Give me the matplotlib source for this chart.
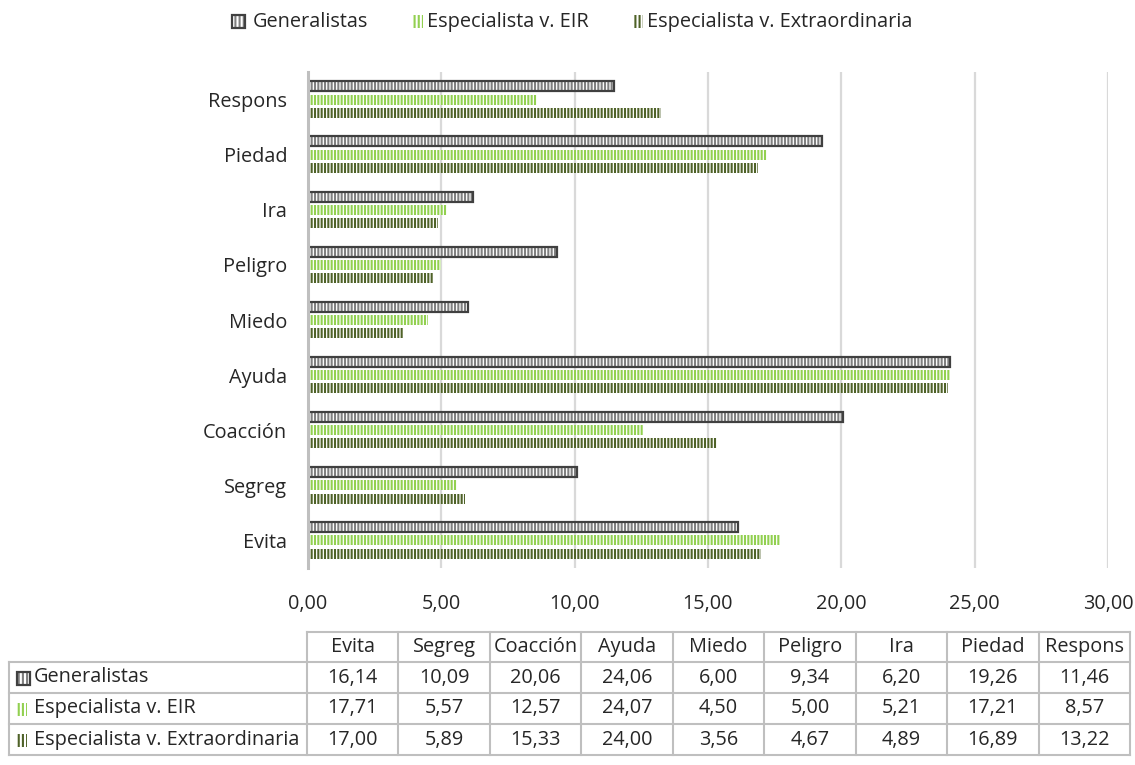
import matplotlib
matplotlib.use('Agg')
import matplotlib.pyplot as plt
from matplotlib.patches import Rectangle
from matplotlib.lines import Line2D
from matplotlib.ticker import FuncFormatter
import numpy as np

categories = ['Evita', 'Segreg', 'Coacción', 'Ayuda', 'Miedo', 'Peligro', 'Ira', 'Piedad', 'Respons']
series_names = ['Generalistas', 'Especialista v. EIR', 'Especialista v. Extraordinaria']
generalistas = [16.14, 10.09, 20.06, 24.06, 6.00, 9.34, 6.20, 19.26, 11.46]
especialista_eir = [17.71, 5.57, 12.57, 24.07, 4.50, 5.00, 5.21, 17.21, 8.57]
especialista_extra = [17.00, 5.89, 15.33, 24.00, 3.56, 4.67, 4.89, 16.89, 13.22]
x_ticks = [0, 5, 10, 15, 20, 25, 30]

W, H = 1135, 765
FONT = 'Open Sans'
FS = 14.3
plt.rcParams['font.family'] = [FONT, 'DejaVu Sans']
plt.rcParams['hatch.linewidth'] = 1.5

HATCH_COLORS = ['#7f7f7f', '#92d050', '#4f6228']
BORDER = '#404040'
TEXT = '#262626'
HATCH = '|||||'


def fx(px):
    return px / W


def fy(py):
    return 1 - py / H


fig = plt.figure(figsize=(W / 100, H / 100), dpi=100)
ax = fig.add_axes([fx(308), fy(568), fx(1108) - fx(308), fy(72) - fy(568)])

y = np.arange(len(categories))
bar_h = 0.18
offsets = [0.24, 0.0, -0.24]
all_values = [generalistas, especialista_eir, especialista_extra]

for i, values in enumerate(all_values):
    ax.barh(y + offsets[i], values, height=bar_h, color='white',
            edgecolor=HATCH_COLORS[i], hatch=HATCH, linewidth=0, zorder=3)
# dark outline on the first series
ax.barh(y + offsets[0], generalistas, height=bar_h, fill=False,
        edgecolor=BORDER, linewidth=1.6, zorder=4)

ax.set_xlim(0, 30)
ax.set_ylim(-0.5, len(categories) - 0.5)
ax.set_xticks(x_ticks)
ax.xaxis.set_major_formatter(FuncFormatter(lambda v, p: f'{v:.2f}'.replace('.', ',')))
ax.set_yticks(y)
ax.set_yticklabels(categories)
ax.tick_params(axis='both', length=0, labelsize=FS, colors=TEXT)
ax.tick_params(axis='y', pad=15)
ax.tick_params(axis='x', pad=19)
ax.grid(axis='x', color='#d9d9d9', linewidth=1.6, zorder=0)
ax.set_axisbelow(True)
for side in ['top', 'right', 'bottom']:
    ax.spines[side].set_visible(False)
ax.spines['left'].set_color('#bfbfbf')
ax.spines['left'].set_linewidth(2.2)
ax.spines['left'].set_zorder(5)


def key(x0, y0, i, w, h):
    fig.add_artist(Rectangle((fx(x0), fy(y0 + h)), fx(w), h / H, facecolor='white',
                             edgecolor=HATCH_COLORS[i], hatch='||||', linewidth=0,
                             transform=fig.transFigure))
    if i == 0:
        fig.add_artist(Rectangle((fx(x0), fy(y0 + h)), fx(w), h / H, fill=False,
                                 edgecolor=BORDER, linewidth=1.6,
                                 transform=fig.transFigure))


# legend on top
legend_x = [(232, 253), (413, 427), (633, 647)]
for i, name in enumerate(series_names):
    kx, tx = legend_x[i]
    key(kx, 15, i, 13 if i == 0 else 10, 13)
    fig.text(fx(tx), fy(22), name, fontsize=FS, color=TEXT, va='center', ha='left')

# data table
col_left, col_right = 307, 1130
n = len(categories)
col_edges = np.linspace(col_left, col_right, n + 1)
row_edges = [632, 662, 693, 724, 755]
label_left = 9
grid_kw = dict(color='#bfbfbf', linewidth=1.5, transform=fig.transFigure)

# horizontal lines
fig.add_artist(Line2D([fx(col_left), fx(col_right)], [fy(row_edges[0])] * 2, **grid_kw))
for r in row_edges[1:]:
    fig.add_artist(Line2D([fx(label_left), fx(col_right)], [fy(r)] * 2, **grid_kw))
# vertical lines
fig.add_artist(Line2D([fx(label_left)] * 2, [fy(row_edges[1]), fy(row_edges[-1])], **grid_kw))
for c in col_edges:
    fig.add_artist(Line2D([fx(c)] * 2, [fy(row_edges[0]), fy(row_edges[-1])], **grid_kw))

centers = (col_edges[:-1] + col_edges[1:]) / 2
for j, cat in enumerate(categories):
    fig.text(fx(centers[j]), fy((row_edges[0] + row_edges[1]) / 2), cat,
             fontsize=FS, color=TEXT, ha='center', va='center')
for i, (name, values) in enumerate(zip(series_names, all_values)):
    yc = (row_edges[i + 1] + row_edges[i + 2]) / 2
    key(17, yc - 6, i, 13 if i == 0 else 10, 13)
    fig.text(fx(34), fy(yc), name, fontsize=FS, color=TEXT, ha='left', va='center')
    for j, v in enumerate(values):
        fig.text(fx(centers[j]), fy(yc), f'{v:.2f}'.replace('.', ','),
                 fontsize=FS, color=TEXT, ha='center', va='center')

fig.savefig('out.png', dpi=100)
